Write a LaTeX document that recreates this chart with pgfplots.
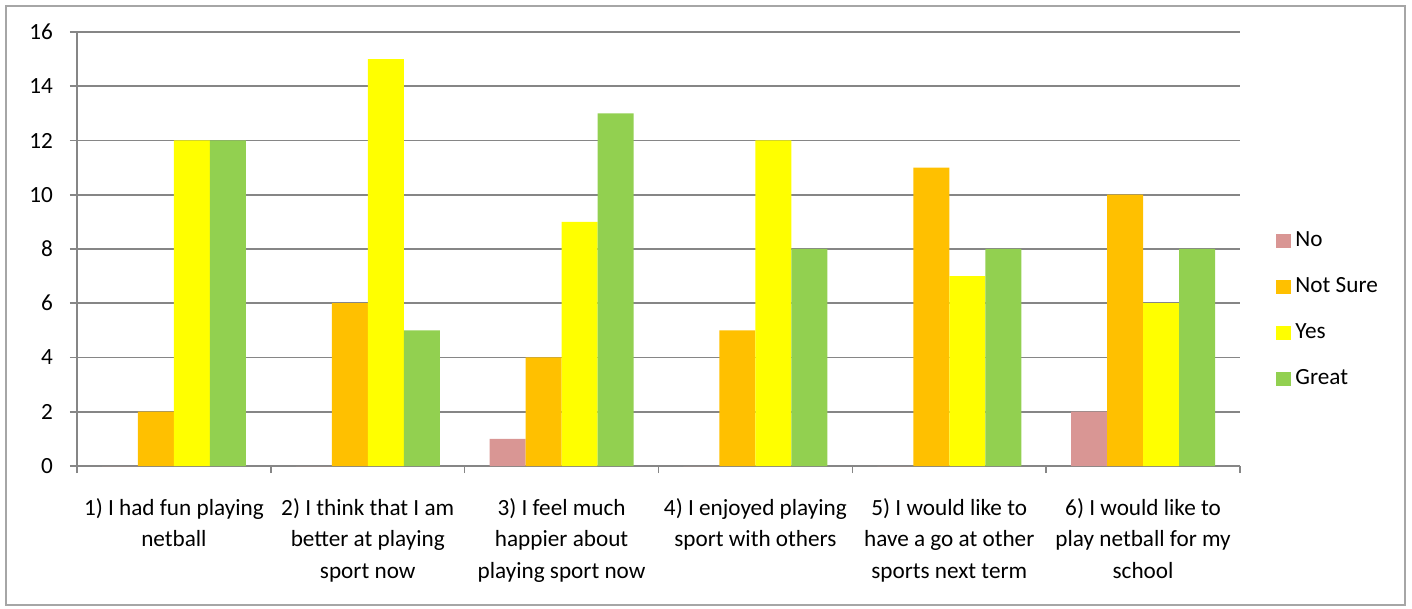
\documentclass[border=0pt]{standalone}
\usepackage{fontspec}
\setmainfont{Carlito}
\usepackage{pgfplots}
\pgfplotsset{compat=1.18}
\definecolor{cNo}{HTML}{D99694}
\definecolor{cNS}{HTML}{FFC000}
\definecolor{cYes}{HTML}{FFFF00}
\definecolor{cGreat}{HTML}{92D050}
\definecolor{gridc}{HTML}{868686}
\begin{document}
\begin{tikzpicture}
\path[use as bounding box] (-38.5pt,-71.5pt) rectangle (667.5pt,233pt);
\draw[gray!70, line width=0.8pt] (-35.5pt,-69.5pt) rectangle (664pt,230pt);
\begin{axis}[
  scale only axis,
  width=581.5pt, height=217pt,
  ybar=0pt, bar width=18pt,
  xmin=-0.5, xmax=5.5,
  ymin=0, ymax=16,
  ytick={0,2,...,16},
  xtick={0,...,5},
  xticklabels={
    {1) I had fun playing\\netball},
    {2) I think that I am\\better at playing\\sport now},
    {3) I feel much\\happier about\\playing sport now},
    {4) I enjoyed playing\\sport with others},
    {5) I would like to\\have a go at other\\sports next term},
    {6) I would like to\\play netball for my\\school}},
  xticklabel style={align=center, font=\fontsize{11.6}{15.75}\selectfont, yshift=-9pt},
  yticklabel style={font=\fontsize{11.6}{13}\selectfont, xshift=-5pt},
  /pgf/number format/assume math mode=true,
  minor xtick={-0.5,0.5,...,5.5},
  xtick style={draw=none},
  minor x tick style={draw=gridc, line width=0.8pt},
  ytick style={draw=gridc, line width=0.8pt},
  tick align=outside,
  major tick length=3.5pt, minor tick length=3.5pt,
  axis x line*=bottom, axis y line*=left,
  axis line style={draw=gridc, line width=0.8pt, -},
  ymajorgrids, grid style={draw=gridc, line width=0.8pt},
  legend style={at={(1.031,0.36)}, anchor=west, draw=none, inner sep=0pt,
    font=\fontsize{11.6}{13}\selectfont, row sep=10pt, cells={anchor=west}},
  legend image code/.code={\fill[#1] (0pt,-3.5pt) rectangle (7.5pt,3.5pt);},
]
\addplot[fill=cNo, draw=none] coordinates {(0,0) (1,0) (2,1) (3,0) (4,0) (5,2)};
\addplot[fill=cNS, draw=none] coordinates {(0,2) (1,6) (2,4) (3,5) (4,11) (5,10)};
\addplot[fill=cYes, draw=none] coordinates {(0,12) (1,15) (2,9) (3,12) (4,7) (5,6)};
\addplot[fill=cGreat, draw=none] coordinates {(0,12) (1,5) (2,13) (3,8) (4,8) (5,8)};
\legend{No, Not Sure, Yes, Great}
\end{axis}
\end{tikzpicture}
\end{document}
